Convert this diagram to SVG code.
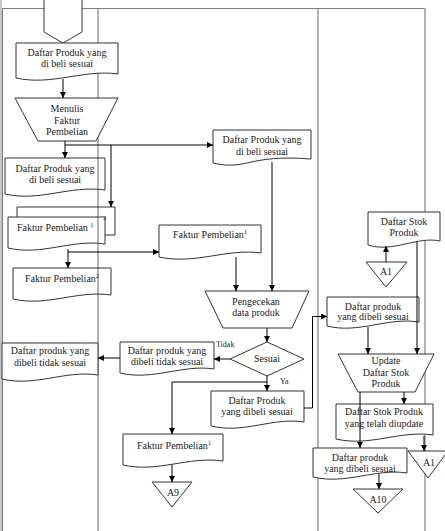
<svg xmlns="http://www.w3.org/2000/svg" width="445" height="531" viewBox="0 0 445 531" font-family="'Liberation Serif', 'Times New Roman', serif">
<defs>
<marker id="ah" viewBox="0 0 10 10" refX="10" refY="5" markerWidth="6" markerHeight="6" orient="auto" markerUnits="userSpaceOnUse"><path d="M0,0 L10,5 L0,10 Z" fill="#000"/></marker>
<style>
.lane{stroke:#808080;stroke-width:1.2;fill:none}
.shape{stroke:#333;stroke-width:1;fill:#fff}
.open{stroke:#333;stroke-width:1;fill:none}
.conn{stroke:#000;stroke-width:1;fill:none;marker-end:url(#ah)}
text{font-family:'Liberation Serif','Times New Roman',serif;font-size:10px;fill:#222}
.c{text-anchor:middle}
.sm{font-size:8px}
.sup{font-size:7px}
</style>
</defs>
<rect width="445" height="531" fill="#fff"/>
<g id="frame">
<rect x="0" y="0" width="2" height="531" fill="#c8c8c8"/>
<path class="lane" d="M2.5,8.5 H425 M2.5,8.5 V531 M98,8.5 V531 M318,8.5 V531 M425,8.5 V531"/>
</g>
<g id="nodes">
<g id="offpage-top"><path class="shape" d="M44,-1 H82 V32 L63,43 L44,32 Z"/></g>
<g id="doc1"><path class="shape" d="M16,43 H118 V74 C84.3,69 51.7,86 16,78 Z"/><text class="c" x="67" y="56">Daftar Produk yang</text><text class="c" x="67" y="67">di beli sesuai</text></g>
<g id="menulis"><path class="shape" d="M15,98 H118 L96,141 H38 Z"/><text class="c" x="67" y="112">Menulis</text><text class="c" x="67" y="124">Faktur</text><text class="c" x="67" y="135">Pembelian</text></g>
<g id="doc2"><path class="open" d="M5,158 H105 V190 C70,185 40,202 5,194 Z"/><text class="c" x="55" y="172">Daftar Produk yang</text><text class="c" x="55" y="183">di beli sesuai</text></g>
<g id="faktur-multi"><path class="open" d="M17,217 V207 H115 V235 H105"/><path class="open" d="M8,217 H105 V244 C71,239 42,256 8,248 Z"/><text x="17" y="231">Faktur Pembelian <tspan class="sup" dy="-4">1</tspan></text><text class="sup" x="103" y="220">2</text></g>
<g id="faktur2"><path class="open" d="M13,268 H111 V295 C77,290 47,307 13,299 Z"/><text x="25" y="282">Faktur Pembelian<tspan class="sup" dy="-4">2</tspan></text></g>
<g id="doc-mid-top"><path class="shape" d="M213,130 H311 V159 C247.3,154 247.3,171 213,163 Z"/><text class="c" x="262" y="143">Daftar Produk yang</text><text class="c" x="262" y="155">di beli sesuai</text></g>
<g id="faktur1-mid"><path class="shape" d="M159,225 H261 V253 C227,248 195,265 159,257 Z"/><text x="173" y="238">Faktur Pembelian<tspan class="sup" dy="-4">1</tspan></text></g>
<g id="pengecekan"><path class="shape" d="M205,291 H309 L292,328 H223 Z"/><text class="c" x="256" y="305">Pengecekan</text><text class="c" x="256" y="316">data produk</text></g>
<g id="sesuai"><path class="shape" d="M267,342 L304,359 L267,376 L230,359 Z"/><text class="c" x="267" y="362">Sesuai</text></g>
<g id="doc-tidak"><path class="shape" d="M120,342 H214 V369 C183,364 153,381 120,373 Z"/><text class="c" x="167" y="354">Daftar produk yang</text><text class="c" x="167" y="365">dibeli tidak sesuai</text></g>
<g id="doc-tidak-left"><path class="shape" d="M2,343 H98 V375 C65,370 35,387 2,379 Z"/><text class="c" x="50" y="354">Daftar produk yang</text><text class="c" x="50" y="366">dibeli tidak sesuai</text></g>
<g id="doc-ya"><path class="shape" d="M211,391 H304 V422 C273,417 244,434 211,426 Z"/><text class="c" x="257" y="404">Daftar Produk</text><text class="c" x="257" y="415">yang dibeli sesuai</text></g>
<g id="faktur1-bottom"><path class="shape" d="M123,434 H223 V461 C188,456 158,473 123,465 Z"/><text x="137" y="449">Faktur Pembelian<tspan class="sup" dy="-4">1</tspan></text></g>
<g id="a9"><path class="shape" d="M152,482 H192 L172,507 Z"/><text class="c" x="173" y="496">A9</text></g>
<g id="doc-stok"><path class="shape" d="M368,212 H440 V241 C416.8,236 393.2,253 368,245 Z"/><text class="c" x="404" y="225">Daftar Stok</text><text class="c" x="404" y="236">Produk</text></g>
<g id="a1-top"><path class="shape" d="M366,262 H407 L386,287 Z"/><text class="c" x="386" y="275">A1</text></g>
<g id="doc-right"><path class="shape" d="M327,297 H419 V322 C387,317 359,334 327,326 Z"/><text class="c" x="373" y="310">Daftar produk</text><text class="c" x="373" y="320">yang dibeli sesuai</text></g>
<g id="update"><path class="shape" d="M338,354 H434 L415,392 H358 Z"/><text class="c" x="386" y="364">Update</text><text class="c" x="386" y="376">Daftar Stok</text><text class="c" x="386" y="387">Produk</text></g>
<g id="doc-stok-upd"><path class="shape" d="M336,404 H433 V435 C400,430 370,447 336,439 Z"/><text class="c" x="384" y="415">Daftar Stok Produk</text><text class="c" x="384" y="427">yang telah diupdate</text></g>
<g id="a1-bottom"><path class="shape" d="M408,451 H448 L428,478 Z"/><text class="c" x="429" y="466">A1</text></g>
<g id="doc-bottom-right"><path class="shape" d="M313,448 H407 V473 C376,468 346,485 313,477 Z"/><text class="c" x="360" y="461">Daftar produk</text><text class="c" x="360" y="472">yang dibeli sesuai</text></g>
<g id="a10"><path class="shape" d="M353,489 H403 L378,513 Z"/><text class="c" x="378" y="503">A10</text></g>
</g>
<g id="connectors">
<path class="conn" d="M63,79 V98"/>
<path class="conn" d="M65,141 V158"/>
<path class="conn" d="M65,145 H213"/>
<path class="conn" d="M111,145 V207"/>
<path class="conn" d="M68,249 V268"/>
<path class="conn" d="M68,252 H159"/>
<path class="conn" d="M236,257 V291"/>
<path class="conn" d="M272,162 V291"/>
<path class="conn" d="M267,328 V342"/>
<path class="conn" d="M230,359 H214"/>
<path class="conn" d="M120,358 H98"/>
<path class="conn" d="M267,376 V391"/>
<path class="conn" d="M267,382 H172 V434"/>
<path class="conn" d="M304,408 H312.5 V316.5 H327"/>
<path class="conn" d="M386,262 V246"/>
<path class="conn" d="M417,242 V354"/>
<path class="conn" d="M368,327 V354"/>
<path class="conn" d="M404,392 V404"/>
<path class="conn" d="M360,392 V448"/>
<path class="conn" d="M424,436 V451"/>
<path class="conn" d="M379,474 V489"/>
<path class="conn" d="M172,465 V482"/>
<text class="sm" x="216" y="347">Tidak</text>
<text class="sm" x="280" y="384">Ya</text>
</g>
</svg>
